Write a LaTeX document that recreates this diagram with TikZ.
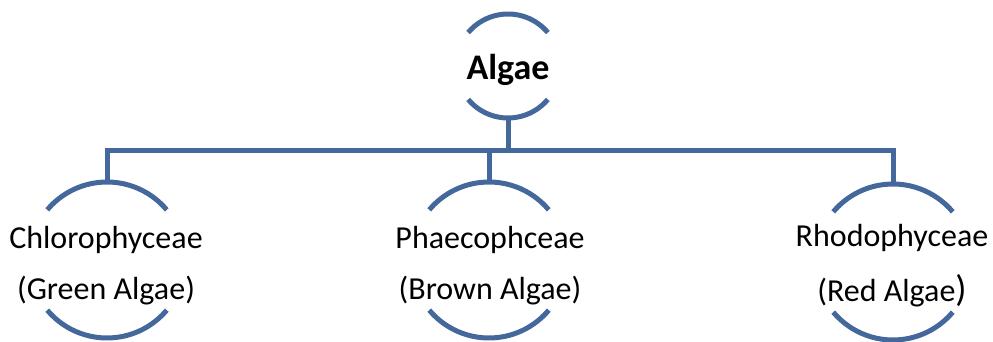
\documentclass[tikz,border=0pt]{standalone}
\usepackage{fontspec}
\setmainfont{Carlito}
\definecolor{lineblue}{HTML}{44689C}
\begin{document}
\begin{tikzpicture}[x=1pt,y=1pt,
  conn/.style={draw=lineblue,line width=5pt},
  arcline/.style={draw=lineblue,line width=5pt},
  ring/.style={circle,draw=none,inner sep=0pt,minimum size=#1},
  childtext/.style={align=center,anchor=base,font=\fontsize{32}{51}\selectfont},
  roottext/.style={font=\bfseries\fontsize{36}{40}\selectfont}]
\useasboundingbox (0,0) rectangle (993,342);
% ring geometry
\node[ring=104pt] (top) at (508,276) {};
\node[ring=156pt] (c1) at (107,82) {};
\node[ring=156pt] (c2) at (489,82) {};
\node[ring=156pt] (c3) at (893,80) {};
% arcs
\draw[arcline] ([shift={(40:52pt)}]top.center) arc[start angle=40,end angle=140,radius=52pt];
\draw[arcline] ([shift={(220:52pt)}]top.center) arc[start angle=220,end angle=320,radius=52pt];
\foreach \n in {c1,c2,c3}{
  \draw[arcline] ([shift={(40:78pt)}]\n.center) arc[start angle=40,end angle=140,radius=78pt];
  \draw[arcline] ([shift={(220:78pt)}]\n.center) arc[start angle=220,end angle=320,radius=78pt];
}
% texts
\node[roottext] (rt) at (508,272) {Algae};
\node[childtext] (t1) at (106,42) {Chlorophyceae\\(Green Algae)};
\node[childtext] (t2) at (490,42) {Phaecophceae\\(Brown Algae)};
\node[childtext,font=\fontsize{32}{55}\selectfont] (t3) at (892,40) {Rhodophyceae\\(Red Algae{\fontsize{37}{40}\selectfont)}};
% connectors
\coordinate (bus) at (0,191);
\draw[conn] (top.south) -- (top.south |- bus);
\draw[conn] (c1.north) |- (bus -| c3.north) -- (c3.north);
\draw[conn] (c2.north) -- (c2.north |- bus);
\end{tikzpicture}
\end{document}
